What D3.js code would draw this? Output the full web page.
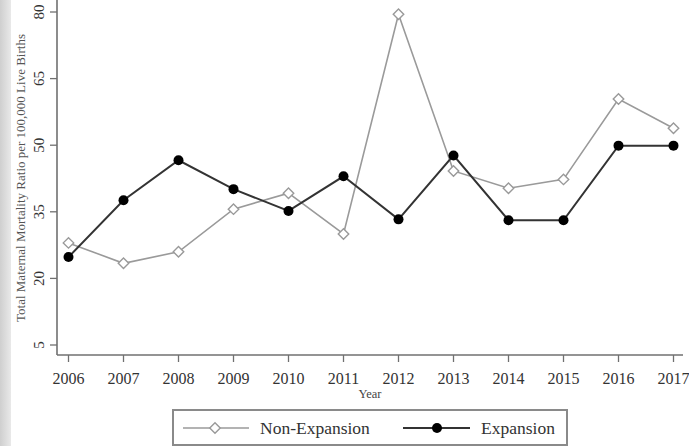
<!DOCTYPE html>
<html>
<head>
<meta charset="utf-8">
<script src="https://cdn.jsdelivr.net/npm/d3@7"></script>
<style>
  body { margin: 0; background: #fff; }
  svg { display: block; font-family: "Liberation Serif", "DejaVu Serif", serif; }
</style>
</head>
<body>
<div id="chart"></div>
<script>
const years = [2006, 2007, 2008, 2009, 2010, 2011, 2012, 2013, 2014, 2015, 2016, 2017]
const nonExpansion = [28.0, 23.4, 26.0, 35.6, 39.2, 30.0, 79.5, 44.2, 40.3, 42.3, 60.4, 53.8]
const expansion = [24.8, 37.6, 46.6, 40.1, 35.2, 43.0, 33.3, 47.7, 33.1, 33.1, 49.9, 49.9]
const yTicks = [5, 20, 35, 50, 65, 80]

const width = 689
const height = 446

const svg = d3.select('#chart').append('svg')
  .attr('width', width)
  .attr('height', height)

// --- left grey strip ---
const defs = svg.append('defs')
const grad = defs.append('linearGradient').attr('id', 'strip')
grad.append('stop').attr('offset', '0%').attr('stop-color', '#cfcfcf')
grad.append('stop').attr('offset', '100%').attr('stop-color', '#e9e9e9')
svg.append('rect')
  .attr('x', 0).attr('y', 0).attr('width', 11).attr('height', height)
  .attr('fill', 'url(#strip)')

const x = d3.scaleLinear().domain([2006, 2017]).range([68.5, 673.5])
const y = d3.scaleLinear().domain([5, 80]).range([345, 12])

const axisColor = '#707070'

// --- y axis ---
const gy = svg.append('g').attr('transform', 'translate(57,0)')
gy.append('line')
  .attr('x1', 0).attr('x2', 0).attr('y1', 0).attr('y2', 355)
  .attr('stroke', axisColor).attr('stroke-width', 1.6)
gy.selectAll('line.tick').data(yTicks).join('line')
  .attr('class', 'tick')
  .attr('x1', -7).attr('x2', 0)
  .attr('y1', d => y(d)).attr('y2', d => y(d))
  .attr('stroke', axisColor).attr('stroke-width', 1.3)
gy.selectAll('text').data(yTicks).join('text')
  .attr('transform', d => `translate(-13,${y(d)}) rotate(-90)`)
  .attr('text-anchor', 'middle')
  .attr('font-size', 15)
  .attr('fill', '#333')
  .text(d => d)

svg.append('text')
  .attr('transform', 'translate(25,178) rotate(-90)')
  .attr('text-anchor', 'middle')
  .attr('font-size', 13)
  .attr('fill', '#555')
  .text('Total Maternal Mortality Ratio per 100,000 Live Births')

// --- x axis ---
const gx = svg.append('g').attr('transform', 'translate(0,355)')
gx.append('line')
  .attr('x1', 57).attr('x2', 683).attr('y1', 0).attr('y2', 0)
  .attr('stroke', axisColor).attr('stroke-width', 1.6)
gx.selectAll('line.tick').data(years).join('line')
  .attr('class', 'tick')
  .attr('x1', d => x(d)).attr('x2', d => x(d))
  .attr('y1', 0).attr('y2', 7)
  .attr('stroke', axisColor).attr('stroke-width', 1.3)
gx.selectAll('text').data(years).join('text')
  .attr('x', d => x(d)).attr('y', 29)
  .attr('text-anchor', 'middle')
  .attr('font-size', 16)
  .attr('fill', '#333')
  .text(d => d)

svg.append('text')
  .attr('x', 370).attr('y', 398)
  .attr('text-anchor', 'middle')
  .attr('font-size', 12.5)
  .attr('fill', '#444')
  .text('Year')

// --- series ---
const line = d3.line()
  .x((d, i) => x(years[i]))
  .y(d => y(d))

const diamond = d3.symbol().type(d3.symbolDiamond2).size(70)

svg.append('path')
  .datum(nonExpansion)
  .attr('d', line)
  .attr('fill', 'none')
  .attr('stroke', '#9a9a9a')
  .attr('stroke-width', 1.6)

svg.append('path')
  .datum(expansion)
  .attr('d', line)
  .attr('fill', 'none')
  .attr('stroke', '#333')
  .attr('stroke-width', 2)

svg.append('g').selectAll('circle').data(expansion).join('circle')
  .attr('cx', (d, i) => x(years[i]))
  .attr('cy', d => y(d))
  .attr('r', 5)
  .attr('fill', '#000')

svg.append('g').selectAll('path').data(nonExpansion).join('path')
  .attr('transform', (d, i) => `translate(${x(years[i])},${y(d)})`)
  .attr('d', diamond)
  .attr('fill', '#fff')
  .attr('stroke', '#999')
  .attr('stroke-width', 1.4)

// --- legend ---
const legend = svg.append('g').attr('transform', 'translate(173,410)')
legend.append('rect')
  .attr('x', 0).attr('y', 0).attr('width', 394).attr('height', 35)
  .attr('fill', '#fff')
  .attr('stroke', '#8a8a8a')
  .attr('stroke-width', 2)

legend.append('line')
  .attr('x1', 10).attr('x2', 76).attr('y1', 18).attr('y2', 18)
  .attr('stroke', '#9a9a9a').attr('stroke-width', 1.6)
legend.append('path')
  .attr('transform', 'translate(42,18)')
  .attr('d', diamond)
  .attr('fill', '#fff')
  .attr('stroke', '#999')
  .attr('stroke-width', 1.4)
legend.append('text')
  .attr('x', 87).attr('y', 24)
  .attr('font-size', 17.5)
  .attr('fill', '#333')
  .text('Non-Expansion')

legend.append('line')
  .attr('x1', 230).attr('x2', 297).attr('y1', 18).attr('y2', 18)
  .attr('stroke', '#333').attr('stroke-width', 2)
legend.append('circle')
  .attr('cx', 264).attr('cy', 18).attr('r', 5)
  .attr('fill', '#000')
legend.append('text')
  .attr('x', 308).attr('y', 24)
  .attr('font-size', 17.5)
  .attr('fill', '#333')
  .text('Expansion')
</script>
</body>
</html>
